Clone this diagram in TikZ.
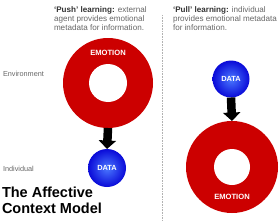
\documentclass[tikz,border=0pt]{standalone}
\usepackage{fontspec}
\setmainfont{Liberation Sans}
\usetikzlibrary{positioning,arrows.meta,calc}

\definecolor{ringred}{HTML}{CC0000}
\definecolor{ballin}{HTML}{4A78FF}
\definecolor{ballout}{HTML}{0A0AD8}
\definecolor{captiongray}{HTML}{666666}

\begin{document}
\begin{tikzpicture}[
    x=1pt, y=1pt,
    every node/.style={inner sep=0pt, outer sep=0pt},
    ring/.style={circle, fill=ringred},
    hole/.style={circle, fill=white},
    ball/.style={circle, shading=radial, inner color=ballin, outer color=ballout,
                 text=white, font=\fontsize{7.4}{8}\selectfont\bfseries},
    ringtext/.style={text=white, font=\fontsize{7.6}{8}\selectfont\bfseries},
    caption/.style={anchor=north west, align=left, text=captiongray,
                    font=\fontsize{8.1}{8.6}\selectfont},
    side/.style={anchor=west, text=captiongray, font=\fontsize{7.3}{8}\selectfont},
    flowarrow/.style={-{Triangle[width=17pt, length=8.5pt]}, line width=8.5pt, black},
]
\useasboundingbox (0,0) rectangle (280,220);

% ---- Divider ----
\coordinate (divtop) at (162,205);
\coordinate (divbot) at (162,0);
\draw[black!30, densely dotted, line width=0.6pt] (divtop) -- (divbot);

% ---- Left: push learning ----
\node[caption] (pushtext) at (54,213)
  {\textbf{\color{black!80}`Push' learning:} external\\agent provides emotional\\metadata for information.};
\node[ring, minimum size=90pt] (emo1) at (108,137) {};
\node[hole, minimum size=38pt] (hole1) at (emo1.center) {};
\node[ringtext] (emolabel1) at ([yshift=30pt]emo1.center) {EMOTION};
\node[ball, minimum size=38pt] (data1) at (107,52) {DATA};
\draw[flowarrow] (emo1.south) -- (data1.north);

% ---- Right: pull learning ----
\node[caption] (pulltext) at (173,213)
  {\textbf{\color{black!80}`Pull' learning:} individual\\provides emotional metadata\\for information.};
\node[ball, minimum size=37pt] (data2) at (231,141) {DATA};
\node[ring, minimum size=92pt] (emo2) at (232,53) {};
\node[hole, minimum size=36pt] (hole2) at (emo2.center) {};
\node[ringtext] (emolabel2) at ([yshift=-30pt]emo2.center) {EMOTION};
\draw[flowarrow] (data2.south) -- (emo2.north);

% ---- Levels and title ----
\node[side] (envlabel) at (3,146) {Environment};
\node[side] (indlabel) at (3,51) {Individual};
\node[anchor=north west, align=left, font=\fontsize{14.5}{15.5}\selectfont\bfseries] (title) at (2,33)
  {The Affective\\Context Model};

\end{tikzpicture}
\end{document}
